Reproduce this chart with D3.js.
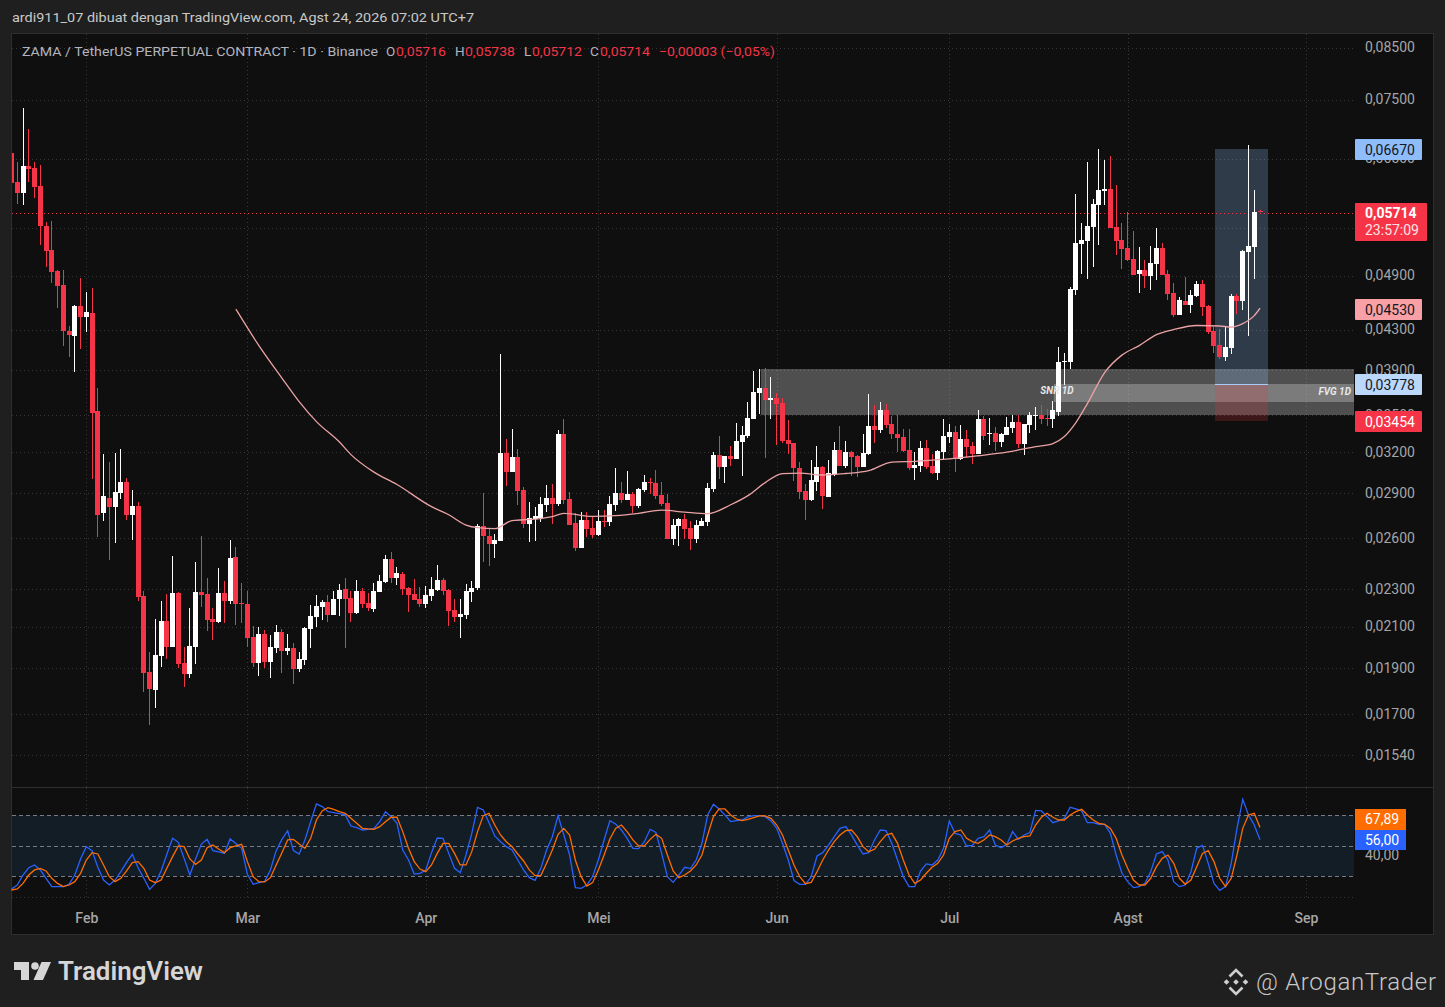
<!DOCTYPE html>
<html>
<head>
<meta charset="utf-8">
<title>ZAMA / TetherUS 1D</title>
<script src="https://cdn.jsdelivr.net/npm/d3@7"></script>
<style>
  html, body { margin: 0; padding: 0; background: #1f1f1f; }
  svg { display: block; }
  text { font-family: Roboto, "Noto Sans", sans-serif; }
</style>
</head>
<body>
<svg id="chart" width="1445" height="1007"></svg>
<script>
// daily candles from 19 Jan to 24 Aug, prices in units of 0,00001
const opens = [6580,6136,5975,6377,6346,6077,5517,5206,4949,4784,4282,4230,4548,
  4429,4472,3530,2758,2860,2798,2895,2973,2745,2805,
  2257,1879,1798,1953,2125,1995,2274,1920,1870,1995,
  2279,2268,2135,2120,2274,2230,2480,2219,2214,2044,
  1920,2059,1925,1990,2069,1976,1990,1893,1934,2084,
  2146,2198,2224,2156,2241,2296,2246,2166,2285,2219,
  2187,2279,2335,2468,2357,2380,2301,2268,2241,2214,
  2257,2290,2346,2290,2182,2146,2156,2279,2301,2673,
  2609,2559,2578,3189,3045,3158,2916,2686,2719,2725,
  2812,2860,2818,3339,2853,2692,2534,2712,2660,2615,
  2706,2699,2812,2895,2846,2888,2805,2916,2973,2966,
  2881,2825,2590,2673,2719,2660,2590,2673,2699,2923,
  3174,3082,3166,3143,3275,3323,3462,3686,3731,3624,
  3642,3598,3291,3267,3075,2909,2846,2973,3082,2867,
  3031,3212,3090,3197,3166,3082,3181,3404,3371,3538,
  3420,3339,3315,3212,3075,3090,3228,3090,3038,3197,
  3315,3355,3143,3299,3243,3181,3462,3339,3347,3275,
  3331,3387,3437,3259,3412,3487,3496,3470,3462,3521,
  3973,3973,4727,5282,5320,5504,5804,6003,6033,5504,
  5333,5232,5094,4913,4961,4890,5033,5232,4913,4693,
  4450,4603,4559,4659,4796,4548,4282,4139,4021,4109,
  4659,4603,5181,5244,5716];
const highs = [6580,6439,7336,6973,6439,6392,5570,5584,4961,4961,4334,4559,4866,
  4704,4750,3731,3181,3120,3189,3220,3002,2916,2832,
  2285,1972,2135,2230,2268,2486,2279,1995,2193,2450,
  2609,2357,2193,2415,2340,2584,2540,2329,2285,2099,
  2094,2079,2054,2104,2084,2059,2015,1972,2094,2209,
  2262,2235,2262,2285,2324,2357,2285,2346,2301,2274,
  2329,2375,2492,2510,2421,2392,2307,2352,2307,2312,
  2363,2433,2357,2296,2241,2241,2324,2340,2686,2895,
  2660,2622,4050,3299,3379,3220,2937,2832,2798,2867,
  2951,2959,3371,3462,2902,2758,2765,2765,2738,2778,
  2778,2874,3075,2973,3053,2902,2930,3023,3002,3060,
  2973,2888,2719,2725,2751,2706,2712,2725,2966,3197,
  3323,3166,3243,3428,3404,3607,3888,3907,3916,3832,
  3686,3642,3453,3267,3120,2959,3135,3243,3090,3135,
  3275,3404,3283,3204,3174,3339,3677,3581,3607,3590,
  3487,3496,3379,3379,3197,3283,3291,3181,3212,3462,
  3420,3404,3412,3371,3275,3538,3487,3470,3396,3347,
  3479,3496,3496,3420,3521,3564,3581,3547,3616,4119,
  4060,4761,5960,5557,6439,5888,6644,6470,6533,6092,
  5557,5706,5451,5244,5082,5257,5491,5295,4961,4807,
  4648,4878,4727,4830,4842,4559,4324,4303,4334,4682,
  4682,5206,6709,6018,5738];
const lows = [6121,5818,5804,6136,5903,5270,4997,4807,4526,4129,4021,3878,4099,
  4271,2994,2603,2706,2462,2565,2853,2712,2584,2230,
  1789,1653,1722,1902,1939,1995,1897,1811,1851,1916,
  2198,2074,2029,2115,2115,2214,2104,2115,1995,1902,
  1860,1897,1851,1967,1874,1958,1824,1879,1911,1990,
  2094,2130,2120,2156,2151,1990,2120,2161,2193,2177,
  2172,2279,2329,2329,2318,2262,2172,2235,2198,2193,
  2230,2285,2262,2099,2120,2039,2135,2224,2290,2450,
  2427,2474,2578,2944,3045,2812,2660,2572,2578,2699,
  2765,2686,2805,2818,2680,2516,2534,2603,2597,2609,
  2666,2673,2771,2825,2846,2758,2792,2902,2888,2853,
  2805,2590,2553,2547,2590,2522,2565,2673,2673,2902,
  2994,2966,3090,3143,3015,3307,3462,3504,3150,3462,
  3251,3267,3181,2980,2853,2712,2839,2909,2785,2867,
  3015,3090,3075,3015,3009,3082,3174,3267,3347,3387,
  3299,3197,3197,3060,2987,3045,3068,3031,2987,3135,
  3267,3045,3135,3150,3105,3181,3291,3251,3204,3235,
  3331,3347,3228,3174,3347,3371,3420,3404,3387,3487,
  3758,3907,4670,4913,4854,4997,5270,5804,5491,5144,
  4973,5070,4902,4693,4750,4727,4842,4902,4614,4429,
  4450,4559,4472,4648,4440,4250,4060,4002,3982,4050,
  4461,4504,4230,4854,5712];
const closes = [6121,5975,6377,6331,6062,5517,5194,4937,4773,4282,4241,4548,4429,
  4483,3512,2745,2874,2798,2902,2973,2745,2805,2251,
  1874,1802,1957,2125,1995,2274,1916,1870,2000,2279,
  2262,2130,2120,2274,2230,2474,2214,2214,2039,1920,
  2059,1925,1995,2069,1976,1990,1893,1939,2089,2151,
  2203,2224,2156,2241,2290,2241,2166,2285,2214,2193,
  2285,2340,2468,2357,2386,2296,2262,2235,2214,2262,
  2296,2346,2285,2177,2146,2161,2285,2301,2673,2609,
  2559,2584,3189,3045,3158,2909,2686,2725,2738,2818,
  2860,2818,3339,2846,2680,2534,2712,2653,2615,2706,
  2699,2818,2895,2846,2888,2805,2923,2973,2966,2874,
  2818,2590,2680,2719,2653,2590,2680,2706,2930,3174,
  3082,3166,3143,3283,3331,3470,3695,3731,3624,3642,
  3590,3283,3259,3075,2902,2846,2987,3082,2874,3038,
  3212,3090,3197,3158,3082,3189,3404,3371,3538,3412,
  3339,3307,3204,3075,3097,3228,3082,3038,3204,3323,
  3355,3143,3299,3235,3181,3462,3323,3347,3275,3339,
  3396,3437,3259,3420,3496,3496,3462,3462,3538,3973,
  3982,4738,5295,5333,5517,5818,6018,6033,5491,5320,
  5219,5082,4902,4961,4890,5045,5232,4902,4682,4450,
  4614,4559,4670,4796,4537,4271,4129,4021,4119,4659,
  4603,5194,5257,5706,5714];

// moving average, read every few days: days after 1 Feb, value
const maDays = [26,30,34,37,40,44,46,50,54,60,63,66,68,71,74,78,81,83,88,92,96,100,104,108,112,115,118,121,124,128,132,136,140,144,150,155,160,165,168,170,172,174,177,180,183,186,189,193,197,199,201,203,204];
const maValues = [4520,4139,3827,3615,3445,3279,3181,3049,2959,2805,2751,2683,2666,2660,2712,2722,2738,2760,2740,2745,2760,2781,2768,2758,2818,2881,2973,3038,3042,3028,3039,3060,3124,3130,3148,3172,3200,3243,3267,3323,3437,3598,3878,4045,4139,4250,4303,4345,4340,4329,4365,4450,4530];

// stochastic RSI, one value per candle
const stochK = [7.5,11.4,21.2,28.4,31.1,26.2,18,9.8,9.8,9.8,12.1,21.2,37,
  49.1,45.2,28.8,16.3,11.4,16.3,24.5,33.7,41.6,28.4,18,7.1,13,25.2,41.6,57.3,53.4,37.6,21.2,37,
  51.7,56.3,45.2,43.9,42.5,56.7,52.1,47.5,21.9,12.1,13.7,15,26.2,45.2,56.3,64.8,45.2,41.9,55.7,73.7,
  91.1,88.5,83.5,82.6,81.6,80.3,69.4,67.8,65.5,66.2,67.1,73.7,83.5,78.6,72.1,45.8,36,22.2,22.9,26.2,
  43.2,57.6,57.3,42.5,27.8,23.5,40.9,62.2,87.8,85.2,72.7,59.6,54,49.1,45.8,36,26.2,18.6,16,27.8,
  45.8,58.9,79.6,60.6,40.9,8.8,8.1,11.4,19.6,36,55.7,74.7,71.4,65.5,57.3,47.5,47.1,54,66.2,63.2,
  42.5,19.6,14,21.2,28.8,27.5,36,52.4,80.3,90.8,86.2,80.3,73.7,74.7,75.3,78.3,79.6,79.6,78.6,74.4,
  67.1,52.4,36,15.7,12.1,12.1,19.6,39.9,43.2,50.7,58.9,67.1,68.8,60.6,50.7,41.9,43.2,55.7,65.5,64.8,
  52.4,36,19.6,9.8,9.8,25.2,32.1,31.1,36,47.5,74.4,62.2,60.6,49.8,50.4,57.3,58.9,65.5,50.7,48.1,
  51.4,63.9,56.3,60.6,62.9,84.8,84.2,78.6,72.7,74.4,77,87.8,86.2,84.2,72.7,72.7,71.1,71.1,62.2,40.9,
  22.9,14.7,8.8,9.8,13,24.5,41.9,44.2,36,14.7,9.8,11.4,24.5,47.5,50.4,32.7,13,6.2,9.8,32.7,
  67.1,95.7,80.3,70.4,56];
const stochD = [6.5,7.5,13,21.2,26.2,27.8,25.2,18,13,9.8,11.4,14.7,22.9,
  36,43.2,41.9,31.1,19.6,14.7,18,25.2,33.4,34.4,27.8,16.3,13.7,16.3,27.8,39.3,49.8,49.1,37,31.7,
  36,48.1,50.7,46.8,43.2,48.1,49.8,51.4,34.4,19.6,14.7,14.4,18.6,31.1,43.2,55.7,56.3,51.7,47.5,57.3,
  75.3,84.2,87.5,85.8,83.5,81.9,77,72.1,67.1,66.5,66.2,68.8,73.7,78,78,63.9,47.5,34.4,27.1,24.5,
  31.1,42.5,52.4,52.4,42.5,31.1,31.1,44.2,63.9,79.6,81.9,70.4,60.6,54,49.1,41.9,35,26.2,20.6,20.6,
  32.7,45.8,61.2,67.1,60.6,36,19.6,10.4,13.7,26.2,40.9,56.7,67.1,70.4,63.9,55.7,49.8,49.8,56.3,61.2,
  57.3,40.9,25.2,18.6,21.2,25.2,31.1,40.9,60.6,78.6,86.2,86.2,80.3,76.3,74.7,76,77.6,79.3,79.3,77,
  70.4,60.6,45.8,31.1,19.6,12.7,14,24.5,36,45.8,54,60.6,64.8,65.5,59,49.1,44.2,46.5,54,60.6,
  62.2,52.4,36,21.2,13,16.3,22.9,28.8,32.7,40.9,57.3,63.9,65.5,57.3,54,52.4,55.7,60.6,59,55.7,
  50.7,54.7,57.3,59,59.6,70.4,78,81.9,78,75.3,75.3,80.3,83.5,85.8,80.3,75.3,72.1,71.1,67.1,57.3,
  40.9,27.8,16.3,11.4,11.4,18,29.4,37.6,40.9,32.7,18,12.1,16.3,29.4,42.5,45.2,34.4,18,9.8,18,
  40.9,67.1,80.3,81.9,67.89];

const priceTicks = [8500,7500,6500,5500,4900,4300,3900,3500,3200,2900,2600,2300,2100,1900,1700,1540];
const stochBands = [80,50,20];
const stochTicks = [40,0];
const monthTicks = ['2026-02-01','2026-03-01','2026-04-01','2026-05-01','2026-06-01','2026-07-01','2026-08-01','2026-09-01'];
const monthNames = ['Feb','Mar','Apr','Mei','Jun','Jul','Agst','Sep'];

// drawings on the chart
const snrZone = {from: '2026-05-29T06:00Z', top: 3907, bottom: 3495};
const fvgZone = {from: '2026-07-19', top: 3768, bottom: 3607};
const trade = {from: '2026-08-16T04:00Z', to: '2026-08-25T08:00Z', target: 6670, entry: 3778, stop: 3454};

const W = 1445, H = 1007;
const left = 12, right = 1354, paneRight = 1433;
const RED = '#f53447', BLUE = '#2962ff', ORANGE = '#ff6d00', AXIS = '#a6a6a6';

const svg = d3.select('#chart');
const day0 = new Date(Date.UTC(2026, 0, 19));
const dates = d3.utcDay.range(day0, new Date(Date.UTC(2026, 7, 25)));
const feb1 = new Date(Date.UTC(2026, 1, 1));

const x = d3.scaleUtc().domain([feb1, new Date(Date.UTC(2026, 7, 24))]).range([86.3, 1260]);
const y = d3.scaleLog().domain([8500, 1540]).range([47.7, 754.9]);
const ys = d3.scaleLinear().domain([0, 100]).range([896.6, 794.9]);

const comma = d3.formatLocale({decimal: ',', thousands: '.', grouping: [3], currency: ['', '']});
const fmtPrice = v => comma.format('.5f')(v / 1e5);
const fmtStoch = comma.format('.2f');

// frame
svg.append('rect').attr('width', W).attr('height', H).attr('fill', '#1f1f1f');
svg.append('rect').attr('x', left - .5).attr('y', 33.5).attr('width', paneRight - left + 1).attr('height', 901)
  .attr('fill', '#0f0f0f').attr('stroke', '#2e2e2e');
svg.append('line').attr('x1', left).attr('x2', paneRight).attr('y1', 787.5).attr('y2', 787.5).attr('stroke', '#2e2e2e');

const defs = svg.append('defs');
defs.append('clipPath').attr('id', 'pane').append('rect').attr('x', left).attr('y', 34).attr('width', right - left).attr('height', 753);

// grid
const grid = svg.append('g').attr('stroke', '#383838').attr('stroke-dasharray', '1 3');
grid.selectAll('.v').data(monthTicks).join('g').each(function(d) {
  const px = Math.round(x(new Date(d))) + .5;
  d3.select(this).append('line').attr('x1', px).attr('x2', px).attr('y1', 34).attr('y2', 787);
  d3.select(this).append('line').attr('x1', px).attr('x2', px).attr('y1', 788).attr('y2', 900);
});
grid.selectAll('.h').data(priceTicks).join('line')
  .attr('x1', left).attr('x2', right)
  .attr('y1', d => Math.round(y(d)) + .5).attr('y2', d => Math.round(y(d)) + .5);
grid.selectAll('.s').data(stochTicks).join('line')
  .attr('x1', left).attr('x2', right)
  .attr('y1', d => Math.round(ys(d)) + .5).attr('y2', d => Math.round(ys(d)) + .5);

// zones under the candles
const zones = svg.append('g');
function zone(x0, x1, top, bottom, fill, snap) {
  zones.append('rect').attr('x', x0).attr('width', x1 - x0)
    .attr('y', snap(y(top))).attr('height', snap(y(bottom)) - snap(y(top)))
    .attr('fill', fill);
}
zone(x(new Date(snrZone.from)), right, snrZone.top, snrZone.bottom, 'rgba(255,255,255,.27)', Math.floor);
zone(x(new Date(fvgZone.from)) + 1, right, fvgZone.top, fvgZone.bottom, 'rgba(255,255,255,.25)', Math.floor);
const tx0 = Math.round(x(new Date(trade.from))), tx1 = Math.round(x(new Date(trade.to)));
zone(tx0, tx1, trade.target, trade.entry, 'rgba(144,191,249,.25)', Math.ceil);
zone(tx0, tx1, trade.entry, trade.stop, 'rgba(242,54,69,.2)', Math.ceil);
zones.append('line').attr('x1', tx0).attr('x2', tx1)
  .attr('y1', Math.ceil(y(trade.entry)) + .5).attr('y2', Math.ceil(y(trade.entry)) + .5)
  .attr('stroke', '#a9ccfb');

// last price line
svg.append('line').attr('x1', left).attr('x2', right)
  .attr('y1', 213.5).attr('y2', 213.5)
  .attr('stroke', RED).attr('stroke-dasharray', '1 3');

// candles
const candles = svg.append('g').attr('clip-path', 'url(#pane)');
const bar = candles.selectAll('g').data(dates).join('g')
  .attr('fill', (d, i) => closes[i] >= opens[i] ? '#ffffff' : RED);
bar.append('rect')
  .attr('x', d => Math.round(x(d) - .5))
  .attr('width', 1)
  .attr('y', (d, i) => Math.floor(y(highs[i])))
  .attr('height', (d, i) => Math.max(1, Math.floor(y(lows[i])) - Math.floor(y(highs[i]))));
bar.append('rect')
  .attr('x', d => Math.round(x(d) - .5) - 2)
  .attr('width', 5)
  .attr('y', (d, i) => Math.floor(y(Math.max(opens[i], closes[i]))))
  .attr('height', (d, i) => Math.max(1, Math.floor(y(Math.min(opens[i], closes[i]))) - Math.floor(y(Math.max(opens[i], closes[i])))));

// moving average
svg.append('path').attr('fill', 'none').attr('stroke', '#eaa2a4').attr('stroke-width', 1.3)
  .attr('d', d3.line()
    .x(d => x(d3.utcDay.offset(feb1, d)))
    .y((d, i) => y(maValues[i]))
    .curve(d3.curveMonotoneX)(maDays));

// zone labels
const tag = svg.append('g').attr('fill', '#e8e8e8').attr('font-size', 10).attr('font-weight', 700).attr('font-style', 'italic');
tag.append('text').attr('x', 1057).attr('y', 394).attr('text-anchor', 'middle').text('SNR 1D');
tag.append('text').attr('x', 1351).attr('y', 395).attr('text-anchor', 'end').text('FVG 1D');

// stochastic pane
svg.append('rect').attr('x', left).attr('width', right - left)
  .attr('y', ys(stochBands[0])).attr('height', ys(stochBands[2]) - ys(stochBands[0]))
  .attr('fill', '#121d26');
svg.append('g').attr('stroke', '#787b86').attr('stroke-dasharray', '4 3')
  .selectAll('line').data(stochBands).join('line')
  .attr('x1', left).attr('x2', right)
  .attr('y1', d => Math.round(ys(d)) + .5).attr('y2', d => Math.round(ys(d)) + .5);

const stochLine = vals => d3.line().x(d => x(d)).y((d, i) => ys(vals[i]))(dates);
const stochG = svg.append('g').attr('fill', 'none').attr('stroke-width', 1.3);
stochG.append('path').attr('stroke', BLUE).attr('d', stochLine(stochK));
stochG.append('path').attr('stroke', ORANGE).attr('d', stochLine(stochD));

// price axis, the 0,05500 label is fully behind the current price tag
const priceAxis = d3.axisRight(y).tickValues(priceTicks.filter(d => d !== 5500)).tickFormat(fmtPrice).tickSize(0).tickPadding(0);
const pa = svg.append('g').attr('transform', 'translate(1365,-.3)').call(priceAxis);
pa.select('.domain').remove();
pa.selectAll('text').attr('fill', AXIS).attr('font-size', 14).attr('font-family', 'Roboto');

// labels that sit over the axis
function priceTag(yc, x1, bg, fg, label, bold) {
  const h = 21;
  svg.append('rect').attr('x', 1355).attr('y', yc - h / 2).attr('width', x1 - 1355).attr('height', h).attr('rx', 1).attr('fill', bg);
  svg.append('text').attr('x', 1365).attr('y', yc + 5).attr('fill', fg).attr('font-size', 14)
    .attr('font-weight', bold ? 700 : 400).text(label);
}
priceTag(149.5, 1422, '#8ebdfa', '#131722', fmtPrice(trade.target));
priceTag(309.5, 1422, '#f8a0a5', '#131722', fmtPrice(maValues[maValues.length - 1]));
priceTag(384.5, 1422, '#bbd8fb', '#131722', fmtPrice(trade.entry));
priceTag(421.5, 1422, RED, '#ffffff', fmtPrice(trade.stop));

// current price with countdown
svg.append('rect').attr('x', 1355).attr('y', 203).attr('width', 72).attr('height', 38).attr('rx', 1).attr('fill', RED);
svg.append('text').attr('x', 1365).attr('y', 218).attr('fill', '#fff').attr('font-size', 14).attr('font-weight', 700).text(fmtPrice(closes[closes.length - 1]));
svg.append('text').attr('x', 1365).attr('y', 235).attr('fill', '#ffe3e6').attr('font-size', 14).text('23:57:09');

// stochastic labels
svg.append('text').attr('x', 1365).attr('y', 860).attr('fill', AXIS).attr('font-size', 14).text(fmtStoch(stochTicks[0]));
svg.append('rect').attr('x', 1355).attr('y', 809).attr('width', 51).attr('height', 21).attr('fill', ORANGE);
svg.append('text').attr('x', 1365).attr('y', 824).attr('fill', '#fff').attr('font-size', 14).text(fmtStoch(stochD[stochD.length - 1]));
svg.append('rect').attr('x', 1355).attr('y', 830).attr('width', 51).attr('height', 20).attr('fill', BLUE);
svg.append('text').attr('x', 1365).attr('y', 845).attr('fill', '#fff').attr('font-size', 14).text(fmtStoch(stochK[stochK.length - 1]));

// time axis
const timeAxis = d3.axisBottom(x).tickValues(monthTicks.map(d => new Date(d)))
  .tickFormat((d, i) => monthNames[i]).tickSize(0).tickPadding(0);
const ta = svg.append('g').attr('transform', 'translate(0,913.5)').call(timeAxis);
ta.select('.domain').remove();
ta.selectAll('text').attr('fill', AXIS).attr('font-size', 14).attr('font-weight', 500).attr('font-family', 'Roboto');

// header and legend
svg.append('text').attr('x', 12).attr('y', 22).attr('fill', '#c9c9c9').attr('font-size', 13.5)
  .attr('textLength', 462).attr('lengthAdjust', 'spacingAndGlyphs')
  .text('ardi911_07 dibuat dengan TradingView.com, Agst 24, 2026 07:02 UTC+7');
svg.append('text').attr('x', 22).attr('y', 56).attr('fill', '#b2b5be').attr('font-size', 13.5)
  .attr('textLength', 356).attr('lengthAdjust', 'spacingAndGlyphs')
  .text('ZAMA / TetherUS PERPETUAL CONTRACT · 1D · Binance');
const last = opens.length - 1;
const legend = [
  ['O', 386, fmtPrice(opens[last]), 396, 50],
  ['H', 455, fmtPrice(highs[last]), 465, 50],
  ['L', 524, fmtPrice(lows[last]), 532, 50],
  ['C', 590, fmtPrice(closes[last]), 600, 50]
];
legend.forEach(d => {
  svg.append('text').attr('x', d[1]).attr('y', 56).attr('fill', '#b2b5be').attr('font-size', 13.5).text(d[0]);
  svg.append('text').attr('x', d[3]).attr('y', 56).attr('fill', RED).attr('font-size', 13.5)
    .attr('textLength', d[4]).attr('lengthAdjust', 'spacingAndGlyphs').text(d[2]);
});
svg.append('text').attr('x', 659).attr('y', 56).attr('fill', RED).attr('font-size', 13.5)
  .attr('textLength', 116).attr('lengthAdjust', 'spacingAndGlyphs').text('\u22120,00003 (\u22120,05%)');

// footer
const logo = svg.append('g').attr('fill', '#d6d6d6');
logo.append('path').attr('d', 'M14 962h15v18h-8v-10h-7z');
logo.append('circle').attr('cx', 35).attr('cy', 966).attr('r', 3.8);
logo.append('path').attr('d', 'M41.5 962h9.5l-8 18h-9.5z');
svg.append('text').attr('x', 58).attr('y', 980).attr('fill', '#d6d6d6').attr('font-size', 25).attr('font-weight', 600)
  .attr('font-family', 'Inter, Roboto').attr('textLength', 145).attr('lengthAdjust', 'spacingAndGlyphs').text('TradingView');

// exchange mark next to the author name
const mark = svg.append('g').attr('transform', 'translate(1236,982)');
mark.append('path').attr('fill', 'none').attr('stroke', '#cfcfcf').attr('stroke-width', 2.6)
  .attr('d', 'M-6.5-5.5L0-12L6.5-5.5M-6.5 5.5L0 12L6.5 5.5');
[[-9.5, 0], [9.5, 0], [0, 0]].forEach(d => {
  mark.append('rect').attr('x', d[0] - 2).attr('y', d[1] - 2).attr('width', 4).attr('height', 4)
    .attr('fill', '#cfcfcf').attr('transform', `rotate(45 ${d[0]} ${d[1]})`);
});
svg.append('text').attr('x', 1256).attr('y', 990).attr('fill', '#c8c8c8').attr('font-size', 24).attr('font-weight', 300)
  .attr('font-family', 'Lato, Roboto').attr('textLength', 180).attr('lengthAdjust', 'spacing').text('@ AroganTrader');
</script>
</body>
</html>
